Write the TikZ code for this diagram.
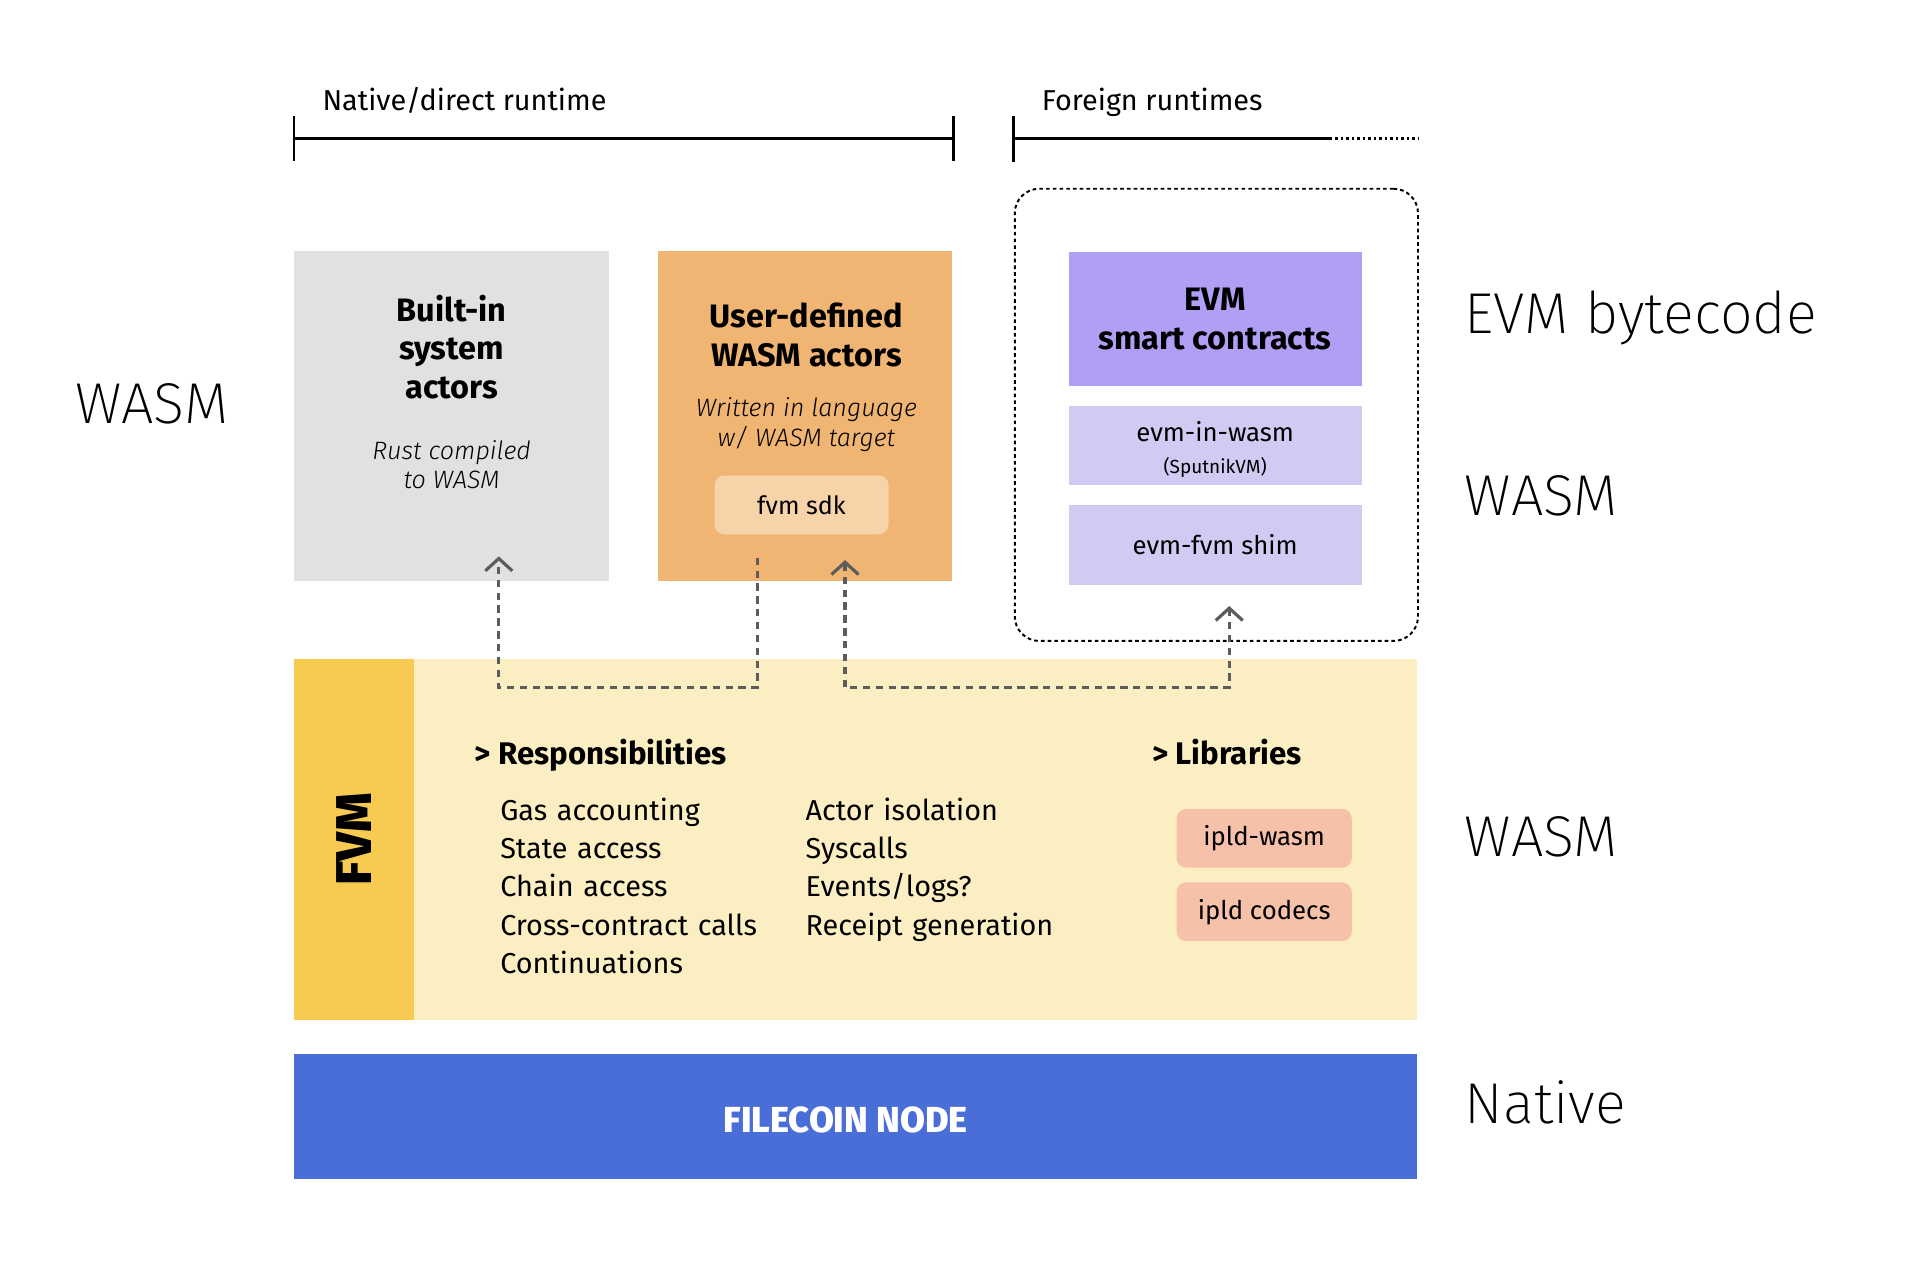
\documentclass[tikz,border=0pt]{standalone}
\usepackage{fontspec}
\setmainfont{Fira Sans}
\newfontfamily\lightfont{Fira Sans Light}
\newfontfamily\thinfont{Fira Sans ExtraLight}
\newfontfamily\heavyfont{Fira Sans ExtraBold}
\usetikzlibrary{arrows.meta}

\definecolor{actorgray}{HTML}{E1E1E3}
\definecolor{actororange}{HTML}{F0B572}
\definecolor{sdkpeach}{HTML}{F7D3AA}
\definecolor{evmpurple}{HTML}{B09FF5}
\definecolor{evmlilac}{HTML}{D3CAF3}
\definecolor{fvmyellow}{HTML}{F7CB51}
\definecolor{fvmcream}{HTML}{FCEEC3}
\definecolor{libsalmon}{HTML}{F6C1A9}
\definecolor{nodeblue}{HTML}{4A6ED8}
\definecolor{linkgray}{HTML}{5C5C5C}

\tikzset{
  panel/.style={inner sep=0pt, outer sep=0pt},
  libchip/.style={panel, rounded corners=8pt, align=center, font=\fontsize{21}{26}\selectfont},
  actortitle/.style={font=\bfseries\fontsize{26.5}{31.5}\selectfont, align=center},
  actornote/.style={font=\lightfont\itshape\fontsize{20.5}{24}\selectfont, align=center},
  listitem/.style={font=\fontsize{23.5}{31}\selectfont},
  listhead/.style={font=\bfseries\fontsize{25.5}{30}\selectfont, anchor=base west, inner sep=0pt},
  layerlabel/.style={font=\thinfont\fontsize{47}{50}\selectfont, anchor=base west, inner sep=0pt},
  spanlabel/.style={font=\fontsize{23.5}{28}\selectfont, anchor=base west, inner sep=0pt},
  link/.style={draw=linkgray, line width=2.6pt, dash pattern=on 6pt off 4.5pt}
}

\begin{document}
\begin{tikzpicture}[x=1pt, y=-1pt, >={Straight Barb[length=10pt,width=22pt]}]
\fill[white] (0,0) rectangle (1565,1048);
% runtime spans
\node[spanlabel] (nativespan) at (263,90) {Native/direct runtime};
\draw[line width=1.8pt] (240,95) -- (240,131) (240,113) -- (778,113) (778,95) -- (778,131);
\node[spanlabel] (foreignspan) at (850,90) {Foreign runtimes};
\draw[line width=1.8pt] (827,95) -- (827,132) (827,113) -- (1085,113);
\draw[line width=1.8pt, dash pattern=on 2pt off 2.5pt] (1085,113) -- (1158,113);

% actors
\node[panel, fill=actorgray, minimum width=257pt, minimum height=269pt] (builtin) at (368.5,339.5) {};
\node[actortitle] (builtintitle) at (368.5,283) {Built-in\\system\\actors};
\node[actornote] (builtinnote) at (368.5,379) {Rust compiled\\to WASM};
\node[panel, fill=actororange, minimum width=240pt, minimum height=269pt] (userdef) at (657,339.5) {};
\node[actortitle] (userdeftitle) at (658,273.5) {User-defined\\WASM actors};
\node[actornote] (userdefnote) at (658,346.5) {Written in language\\w/ WASM target};
\node[libchip, fill=sdkpeach, minimum width=142pt, minimum height=48pt, font=\fontsize{20.5}{24}\selectfont] (sdk) at (654,412) {fvm sdk};

% foreign runtimes
\node[panel, draw, line width=1.6pt, dash pattern=on 3pt off 2.5pt, rounded corners=20pt, minimum width=329pt, minimum height=369pt] (foreign) at (992.5,338.5) {};
\node[panel, fill=evmpurple, minimum width=239pt, minimum height=109pt, actortitle] (evm) at (991.5,260.5) {EVM\\smart contracts};
\node[panel, fill=evmlilac, minimum width=239pt, minimum height=65pt] (inwasm) at (991.5,363.5) {};
\node[libchip] (inwasmtext) at (991.5,367) {evm-in-wasm\\{\fontsize{15.5}{18}\selectfont (SputnikVM)}};
\node[libchip, rounded corners=0pt, fill=evmlilac, minimum width=239pt, minimum height=65pt] (shim) at (991.5,444.5) {evm-fvm shim};

% fvm
\node[panel, fill=fvmcream, minimum width=916pt, minimum height=295pt] (fvm) at (698,685) {};
\node[panel, fill=fvmyellow, minimum width=295pt, minimum height=98pt, rotate=90, font=\heavyfont\fontsize{41}{44}\selectfont] (fvmtag) at (289,685) {FVM};
\node[listhead] (duthead) at (387,623.5) {> Responsibilities};
\node [matrix,ampersand replacement=\&,anchor=north west,inner sep=0pt,column sep=19pt,row sep=10.3pt,
  nodes={listitem,anchor=base west,inner sep=0pt,text height=16pt,text depth=5pt,text width=230pt,align=left}] (duties) at (408,653)
    {
        \node {Gas accounting}; \& \node {Actor isolation}; \\
        \node {State access}; \& \node {Syscalls}; \\
        \node {Chain access}; \& \node {Events/logs?}; \\
        \node {Cross-contract calls}; \& \node {Receipt generation}; \\
        \node {Continuations}; \& \\
};
\node[listhead] (libhead) at (940,623.5) {> Libraries};
\node[libchip, fill=libsalmon, minimum width=143pt, minimum height=48pt] (ipldwasm) at (1031.5,684) {ipld-wasm};
\node[libchip, fill=libsalmon, minimum width=143pt, minimum height=48pt] (ipldcodecs) at (1031.5,744) {ipld codecs};

% node
\node[panel, fill=nodeblue, minimum width=916pt, minimum height=102pt] (filecoin) at (698,911) {};
\node[text=white, font=\heavyfont\fontsize{29.5}{32}\selectfont] (filecointext) at (690,914) {FILECOIN NODE};

% layers
\node[layerlabel] (wasmleft) at (61,345.5) {WASM};
\node[layerlabel] (evmcode) at (1195,272) {EVM bytecode};
\node[layerlabel] (wasmevm) at (1195,420.5) {WASM};
\node[layerlabel] (wasmfvm) at (1195,699) {WASM};
\node[layerlabel] (native) at (1195,917) {Native};

% calls
\coordinate (bus) at (0,561);
\coordinate (callout) at ([xshift=-39pt,yshift=19pt]userdef.south);
\coordinate (callin) at ([xshift=38.5pt,yshift=20pt]builtin.south);
\draw[link,->] (callout) -- (callout |- bus) -| (callin);
\coordinate (evmcall) at ([xshift=32.5pt,yshift=17pt]userdef.south);
\coordinate (evmin) at ([xshift=10.5pt,yshift=28.5pt]foreign.south);
\draw[link,<->] (evmcall) |- (evmin |- bus) -- (evmin);
\end{tikzpicture}
\end{document}
